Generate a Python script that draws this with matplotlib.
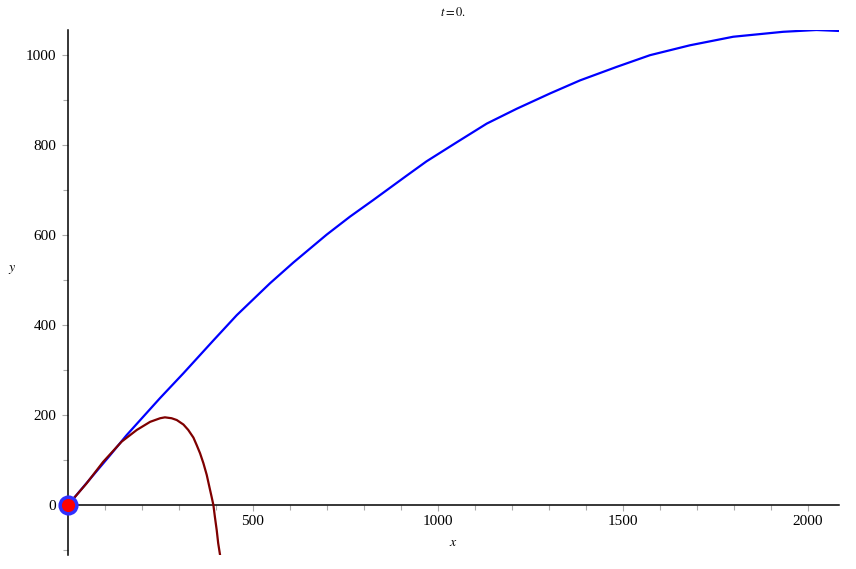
import numpy as np
import matplotlib
matplotlib.use("Agg")
import matplotlib.pyplot as plt
from matplotlib.ticker import MultipleLocator, FixedLocator

plt.rcParams['font.family'] = ['Liberation Serif', 'DejaVu Serif']
plt.rcParams['mathtext.fontset'] = 'stix'

# trajectory with drag (blue)
blue_x = [0, 113, 158, 249, 312, 393, 456, 546, 609, 699, 762, 825, 915, 969,
          1050, 1132, 1213, 1303, 1384, 1483, 1573, 1681, 1798, 1933, 2023, 2081]
blue_y = [0, 110, 155, 238, 293, 366, 422, 493, 539, 601, 641, 678, 732, 764,
          806, 848, 881, 915, 944, 974, 1000, 1022, 1041, 1052, 1056, 1054]

# second trajectory (dark red)
red_x = [0, 50, 95, 145, 186, 222, 249, 262, 280, 294, 312, 325, 339, 348, 357,
         366, 375, 382, 388, 393, 397, 402, 406, 411]
red_y = [0, 48, 96, 141, 167, 185, 193, 195, 193, 189, 179, 167, 150, 133, 115,
         93, 67, 41, 19, 0, -26, -56, -85, -111]

# projectile at t = 0
ball_x = [0]
ball_y = [0]

fig = plt.figure(figsize=(8.56, 5.69), dpi=100)
ax = fig.add_axes([68/856, 14/569, (839-68)/856, (555-30)/569])

ax.plot(blue_x, blue_y, color='#0000ff', lw=1.6, zorder=3)
ax.plot(red_x, red_y, color='#7f0000', lw=1.6, zorder=3)
ax.plot(ball_x, ball_y, 'o', ms=12, mfc='#ff0000', mec='#3030ff', mew=2.5,
        clip_on=False, zorder=5)

ax.set_xlim(0, 2084)
ax.set_ylim(-111, 1056)

for s in ['top', 'right']:
    ax.spines[s].set_visible(False)
ax.spines['left'].set_position(('data', 0))
ax.spines['bottom'].set_position(('data', 0))
ax.spines['left'].set_linewidth(1.1)
ax.spines['bottom'].set_linewidth(1.1)

ax.xaxis.set_major_locator(FixedLocator([500, 1000, 1500, 2000]))
ax.xaxis.set_minor_locator(MultipleLocator(100))
ax.yaxis.set_major_locator(FixedLocator([0, 200, 400, 600, 800, 1000]))
ax.yaxis.set_minor_locator(MultipleLocator(100))
ax.tick_params(which='both', color='#aaaaaa', width=0.8, labelsize=11)
ax.tick_params(which='major', length=4.5)
ax.tick_params(which='minor', length=3.5)
ax.tick_params(axis='x', pad=3)
ax.tick_params(axis='y', pad=4)

fig.text(453/856, 1 - 12/569, r'$t = 0.$', ha='center', va='center', fontsize=9)
fig.text(453/856, 1 - 542/569, r'$x$', ha='center', va='center', fontsize=10)
fig.text(12/856, 1 - 270/569, r'$y$', ha='center', va='center', fontsize=10)

fig.savefig('out.png', dpi=100)
